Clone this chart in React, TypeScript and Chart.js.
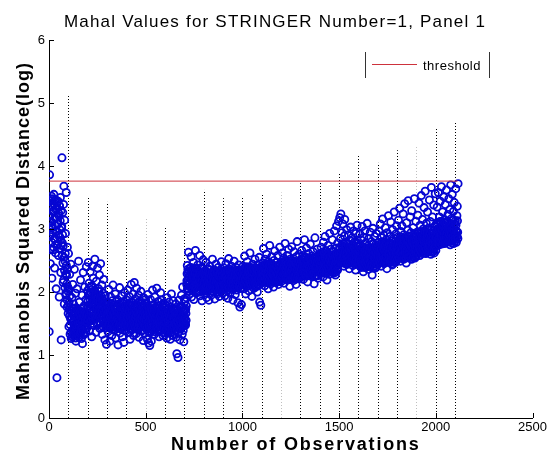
import React, { useEffect, useRef } from 'react';
import { Chart, registerables } from 'chart.js';

Chart.register(...registerables);

const titleText = 'Mahal Values for STRINGER Number=1, Panel 1';
const xAxisLabel = 'Number of Observations';
const yAxisLabel = 'Mahalanobis Squared Distance(log)';
const legendLabel = 'threshold';

const xTickValues = [0, 500, 1000, 1500, 2000, 2500];
const yTickValues = [0, 1, 2, 3, 4, 5, 6];

const thresholdValue = 3.76;
const thresholdFrom = 1;
const thresholdTo = 2112;

// dotted vertical markers (observation, top value)
const boundaryObs = [100, 200, 300, 400, 600, 700, 800, 900, 1000, 1100, 1300, 1400, 1500, 1600, 1700, 1800, 2000, 2100];
const boundaryTop = [5.13, 3.51, 3.43, 3.03, 3.02, 2.97, 3.62, 3.49, 3.51, 3.54, 3.73, 3.75, 3.89, 4.17, 4.05, 4.25, 4.6, 4.7];
const faintBoundaryObs = [500, 1200, 1900];
const faintBoundaryTop = [3.19, 3.58, 4.3];

// odd observations (1, 3, 5, ...), one block per 100 observations
const obsStep = 2;
const odd0001 = [1.37, 3.86, 3.12, 2.45, 3.38, 2.91, 3.52, 2.22, 3.05, 3.41, 2.67, 3.29, 3.55, 2.84, 2.38, 3.18, 3.47, 2.96, 2.05, 3.33, 0.64, 3.08, 2.74, 3.44, 2.58, 3.21, 1.92, 3.36, 2.87, 3.50, 2.31, 1.24, 3.02, 4.13, 2.78, 3.26, 2.15, 3.39, 3.68, 1.81, 3.14, 2.49, 2.93, 1.98, 3.58, 2.27, 1.76, 2.71, 2.08, 1.66];
const odd0101 = [2.61, 1.45, 1.72, 2.28, 1.33, 1.58, 2.44, 1.26, 1.67, 1.91, 1.39, 2.12, 1.53, 1.81, 1.30, 2.36, 1.62, 1.47, 1.98, 1.22, 1.75, 1.41, 2.05, 1.56, 1.35, 1.69, 2.49, 1.28, 1.84, 1.51, 1.64, 2.19, 1.37, 1.73, 1.44, 1.95, 1.18, 1.60, 2.31, 1.49, 1.78, 1.34, 2.08, 1.57, 1.42, 1.88, 2.40, 1.65, 1.52, 2.02];
const odd0201 = [1.85, 2.47, 1.62, 2.14, 1.38, 1.96, 2.32, 1.71, 1.55, 2.08, 1.29, 1.89, 2.41, 1.66, 2.22, 1.47, 1.78, 2.01, 2.52, 1.58, 1.93, 1.36, 2.17, 1.74, 1.63, 2.38, 1.83, 1.50, 2.05, 1.69, 2.27, 1.42, 1.91, 2.45, 1.76, 1.59, 2.11, 1.33, 1.87, 1.98, 1.52, 2.20, 1.68, 1.81, 1.24, 1.94, 1.46, 1.73, 1.17, 1.61];
const odd0301 = [1.56, 1.83, 1.37, 1.68, 2.04, 1.49, 1.75, 1.22, 1.61, 1.92, 1.44, 1.70, 1.31, 1.86, 1.58, 2.11, 1.46, 1.65, 1.39, 1.79, 1.53, 1.97, 1.27, 1.72, 1.60, 1.43, 1.88, 1.55, 1.16, 1.67, 1.81, 1.48, 2.07, 1.35, 1.63, 1.76, 1.41, 1.94, 1.57, 1.29, 1.73, 1.50, 1.85, 1.20, 1.64, 1.99, 1.45, 1.69, 1.38, 1.78];
const odd0401 = [1.62, 1.87, 1.44, 2.03, 1.55, 1.71, 1.36, 1.93, 1.58, 1.25, 1.79, 1.48, 2.12, 1.66, 1.40, 1.84, 1.53, 1.97, 1.31, 1.74, 2.15, 1.59, 1.45, 1.89, 1.68, 1.34, 2.06, 1.51, 1.77, 1.42, 1.63, 1.95, 1.28, 1.72, 1.56, 1.86, 1.47, 2.01, 1.60, 1.38, 1.82, 1.54, 1.69, 1.23, 1.91, 1.49, 1.75, 1.35, 1.65, 1.88];
const odd0501 = [1.57, 1.83, 1.41, 1.68, 1.25, 1.96, 1.52, 1.19, 1.74, 1.36, 1.15, 1.62, 1.88, 1.45, 1.22, 1.71, 1.54, 2.03, 1.39, 1.66, 1.80, 1.48, 1.33, 1.92, 1.59, 1.76, 1.43, 1.64, 2.06, 1.51, 1.69, 1.37, 1.85, 1.56, 1.29, 1.78, 1.61, 1.46, 1.99, 1.72, 1.40, 1.87, 1.53, 1.67, 1.31, 1.82, 1.58, 1.44, 1.75, 1.63];
const odd0601 = [1.54, 1.79, 1.38, 1.66, 1.27, 1.91, 1.49, 1.72, 1.35, 1.61, 1.84, 1.43, 1.57, 1.25, 1.76, 1.52, 1.97, 1.40, 1.68, 1.31, 1.59, 1.86, 1.46, 1.71, 1.34, 1.63, 1.50, 1.81, 1.28, 1.65, 1.02, 1.74, 1.45, 0.96, 1.58, 1.87, 1.37, 1.69, 1.24, 1.53, 1.78, 1.42, 1.95, 1.60, 1.33, 2.08, 1.48, 1.73, 1.21, 1.89];
const odd0701 = [1.62, 1.85, 1.47, 1.73, 1.55, 1.91, 2.18, 2.42, 2.05, 2.31, 2.63, 2.12, 1.96, 2.27, 2.38, 2.09, 2.21, 2.56, 1.92, 2.15, 2.34, 2.03, 2.24, 2.47, 1.88, 2.19, 2.29, 2.11, 2.66, 2.07, 2.36, 2.22, 1.99, 2.14, 2.43, 2.26, 2.01, 2.32, 2.17, 2.58, 1.94, 2.25, 2.10, 2.39, 2.20, 1.86, 2.30, 2.13, 2.51, 2.04];
const odd0801 = [2.16, 2.33, 1.98, 2.24, 2.08, 2.47, 2.19, 1.91, 2.28, 2.12, 2.37, 2.02, 2.21, 1.87, 2.14, 2.41, 2.06, 2.27, 2.18, 1.95, 2.31, 2.10, 2.52, 2.23, 2.00, 2.15, 2.35, 2.07, 1.89, 2.26, 2.13, 2.44, 2.04, 2.20, 2.30, 1.97, 2.17, 2.39, 2.09, 2.25, 1.93, 2.11, 2.34, 2.01, 2.22, 2.48, 2.05, 2.29, 2.16, 1.99];
const odd0901 = [2.21, 2.05, 2.38, 2.14, 1.94, 2.27, 2.09, 2.45, 2.18, 2.02, 2.32, 2.12, 1.90, 2.24, 2.53, 2.07, 2.19, 2.36, 1.98, 2.28, 2.15, 2.41, 2.04, 2.22, 2.11, 1.87, 2.33, 2.17, 2.49, 2.08, 2.26, 1.96, 2.20, 2.39, 2.13, 2.03, 2.30, 2.16, 1.83, 2.25, 2.43, 2.10, 2.23, 1.76, 2.35, 2.06, 2.19, 1.80, 2.29, 2.14];
const odd1001 = [2.24, 2.41, 2.12, 2.33, 2.05, 2.57, 2.19, 2.29, 1.97, 2.37, 2.15, 2.26, 2.48, 2.09, 2.31, 2.20, 2.02, 2.39, 2.17, 2.62, 2.27, 2.11, 2.35, 2.23, 1.93, 2.30, 2.44, 2.14, 2.21, 2.06, 2.34, 2.18, 2.52, 2.25, 2.08, 2.38, 2.16, 2.28, 2.00, 2.43, 2.22, 2.32, 2.13, 2.55, 1.84, 2.26, 2.36, 1.79, 2.19, 2.40];
const odd1101 = [2.31, 2.18, 2.46, 2.27, 2.69, 2.22, 2.38, 2.10, 2.52, 2.29, 2.35, 2.15, 2.60, 2.24, 2.42, 2.33, 2.05, 2.48, 2.21, 2.37, 2.74, 2.26, 2.40, 2.13, 2.31, 2.56, 2.19, 2.44, 2.28, 2.36, 2.08, 2.50, 2.23, 2.65, 2.34, 2.17, 2.41, 2.30, 2.47, 2.20, 2.39, 2.58, 2.25, 2.12, 2.43, 2.32, 2.71, 2.27, 2.35, 2.16];
const odd1201 = [2.33, 2.47, 2.21, 2.62, 2.38, 2.28, 2.54, 2.14, 2.42, 2.31, 2.77, 2.36, 2.24, 2.49, 2.30, 2.58, 2.19, 2.44, 2.35, 2.68, 2.27, 2.40, 2.09, 2.52, 2.34, 2.45, 2.23, 2.72, 2.37, 2.29, 2.50, 2.18, 2.41, 2.64, 2.32, 2.26, 2.46, 2.39, 2.12, 2.56, 2.35, 2.80, 2.43, 2.25, 2.48, 2.31, 2.60, 2.38, 2.22, 2.44];
const odd1301 = [2.38, 2.52, 2.29, 2.66, 2.41, 2.34, 2.58, 2.20, 2.47, 2.36, 2.83, 2.43, 2.31, 2.55, 2.27, 2.70, 2.39, 2.49, 2.16, 2.45, 2.33, 2.61, 2.40, 2.28, 2.53, 2.76, 2.37, 2.46, 2.25, 2.57, 2.42, 2.35, 2.64, 2.30, 2.50, 2.13, 2.44, 2.86, 2.39, 2.32, 2.54, 2.26, 2.48, 2.68, 2.37, 2.22, 2.51, 2.41, 2.60, 2.34];
const odd1401 = [2.43, 2.58, 2.35, 2.71, 2.47, 2.30, 2.63, 2.52, 2.24, 2.79, 2.45, 2.38, 2.56, 2.88, 2.41, 2.66, 2.33, 2.50, 2.19, 2.61, 2.46, 2.74, 2.39, 2.55, 2.28, 2.93, 2.48, 2.42, 2.68, 2.36, 2.59, 2.51, 2.83, 2.44, 2.32, 2.64, 2.40, 2.97, 2.54, 2.47, 2.27, 2.70, 2.49, 3.05, 2.57, 2.37, 2.78, 2.53, 3.12, 2.60];
const odd1501 = [2.68, 3.18, 2.52, 2.85, 3.24, 2.61, 2.47, 2.94, 2.73, 3.08, 2.56, 2.65, 2.41, 2.89, 3.15, 2.70, 2.50, 2.79, 2.58, 2.99, 2.63, 2.44, 2.76, 2.54, 2.91, 2.67, 2.37, 2.82, 2.59, 3.03, 2.71, 2.49, 2.64, 2.86, 2.55, 2.42, 2.74, 2.97, 2.60, 2.51, 2.80, 2.66, 2.35, 2.93, 2.57, 2.72, 3.06, 2.62, 2.46, 2.77];
const odd1601 = [2.58, 2.74, 2.45, 2.92, 2.63, 2.51, 2.83, 2.39, 2.68, 3.04, 2.55, 2.71, 2.32, 2.87, 2.60, 2.47, 2.97, 2.66, 2.53, 2.78, 2.43, 2.64, 3.09, 2.57, 2.73, 2.36, 2.85, 2.62, 2.49, 2.70, 2.95, 2.56, 2.41, 2.80, 2.65, 2.27, 2.76, 3.01, 2.59, 2.48, 2.69, 2.88, 2.54, 2.38, 2.75, 2.61, 2.93, 2.44, 2.67, 2.52];
const odd1701 = [2.62, 2.79, 2.48, 2.97, 2.67, 2.55, 3.08, 2.71, 2.41, 2.86, 2.59, 2.74, 3.16, 2.52, 2.68, 2.90, 2.45, 2.77, 2.63, 3.02, 2.56, 2.83, 2.70, 2.37, 2.94, 2.65, 2.51, 3.21, 2.75, 2.60, 2.88, 2.47, 2.72, 3.11, 2.58, 2.81, 2.66, 2.43, 2.99, 2.69, 2.54, 2.85, 3.27, 2.64, 2.76, 2.50, 2.92, 2.61, 3.05, 2.73];
const odd1801 = [2.68, 2.87, 2.55, 3.14, 2.74, 2.62, 3.33, 2.80, 2.49, 2.96, 2.66, 2.83, 3.05, 2.58, 2.77, 3.24, 2.52, 2.91, 2.70, 3.40, 2.61, 2.85, 2.73, 2.46, 3.10, 2.79, 2.64, 2.98, 3.45, 2.69, 2.89, 2.57, 2.76, 3.19, 2.67, 2.94, 2.53, 3.29, 2.82, 2.71, 2.60, 3.02, 2.88, 2.75, 3.48, 2.65, 2.93, 2.56, 3.12, 2.78];
const odd1901 = [2.76, 2.95, 2.63, 3.22, 2.84, 2.71, 3.41, 2.89, 2.58, 3.06, 2.74, 2.92, 3.53, 2.69, 2.87, 3.15, 2.66, 3.00, 2.81, 3.34, 2.72, 2.97, 3.60, 2.78, 2.61, 3.09, 2.86, 2.94, 3.27, 2.75, 3.01, 2.68, 2.90, 3.46, 2.80, 3.12, 2.64, 2.98, 3.66, 2.83, 2.73, 3.19, 2.93, 2.79, 3.38, 2.70, 3.04, 2.88, 3.56, 2.85];
const odd2001 = [2.86, 3.08, 2.78, 3.35, 2.95, 2.82, 3.58, 3.01, 2.75, 3.19, 2.90, 3.44, 2.84, 3.12, 3.67, 2.98, 2.80, 3.27, 3.05, 2.88, 3.51, 2.93, 3.15, 2.79, 3.39, 3.00, 2.87, 3.62, 3.10, 2.94, 2.83, 3.23, 3.04, 3.48, 2.91, 2.85, 3.31, 3.07, 3.70, 2.96, 2.81, 3.17, 3.55, 2.99, 2.89, 3.28, 3.02, 3.42, 2.92, 2.86, 3.13, 3.64, 2.97, 2.88, 3.21, 3.36, 2.95, 3.72];

// even observations (2, 4, 6, ...), one block per 100 observations
const even0002 = [3.21, 2.88, 3.44, 2.67, 3.10, 3.35, 2.79, 3.02, 3.48, 2.94, 3.27, 2.71, 3.15, 3.40, 2.85, 3.06, 2.62, 3.31, 2.97, 3.19, 2.76, 3.43, 3.08, 2.90, 3.25, 2.69, 3.37, 2.99, 3.13, 2.82, 3.29, 2.74, 3.04, 2.58, 2.91, 2.46, 2.73, 2.19, 2.55, 2.34, 2.07, 2.61, 2.28, 1.95, 2.42, 2.13, 1.87, 2.36, 2.01, 1.79];
const even0102 = [2.05, 1.83, 1.62, 1.94, 1.48, 1.71, 1.36, 1.57, 1.66, 1.29, 1.52, 1.74, 1.41, 1.63, 1.33, 1.55, 1.47, 1.69, 1.27, 1.58, 1.44, 1.72, 1.38, 1.61, 1.50, 1.31, 1.65, 1.46, 1.56, 1.35, 1.70, 1.42, 1.59, 1.26, 1.53, 1.67, 1.39, 1.49, 1.75, 1.32, 1.60, 1.45, 1.54, 1.68, 1.37, 1.62, 1.51, 1.43, 1.73, 1.57];
const even0202 = [1.78, 1.95, 1.62, 2.06, 1.71, 1.88, 1.54, 1.99, 1.67, 1.83, 2.10, 1.59, 1.76, 1.92, 1.50, 1.85, 1.69, 2.03, 1.64, 1.80, 1.57, 1.97, 1.73, 1.87, 1.48, 1.91, 1.66, 1.79, 2.01, 1.61, 1.84, 1.52, 1.74, 1.94, 1.58, 1.70, 1.89, 1.46, 1.77, 1.63, 1.82, 1.55, 1.68, 1.49, 1.75, 1.60, 1.43, 1.72, 1.53, 1.65];
const even0302 = [1.62, 1.48, 1.75, 1.55, 1.83, 1.43, 1.68, 1.59, 1.77, 1.46, 1.64, 1.81, 1.51, 1.70, 1.41, 1.66, 1.57, 1.79, 1.45, 1.61, 1.73, 1.53, 1.85, 1.49, 1.67, 1.58, 1.42, 1.76, 1.54, 1.69, 1.47, 1.63, 1.80, 1.52, 1.71, 1.44, 1.60, 1.74, 1.50, 1.65, 1.56, 1.82, 1.46, 1.72, 1.59, 1.40, 1.67, 1.53, 1.78, 1.61];
const even0402 = [1.58, 1.73, 1.46, 1.65, 1.81, 1.52, 1.69, 1.43, 1.77, 1.60, 1.49, 1.84, 1.56, 1.71, 1.41, 1.63, 1.79, 1.54, 1.67, 1.47, 1.75, 1.59, 1.44, 1.70, 1.62, 1.80, 1.50, 1.66, 1.42, 1.74, 1.57, 1.83, 1.48, 1.64, 1.72, 1.53, 1.45, 1.68, 1.78, 1.55, 1.61, 1.40, 1.76, 1.51, 1.69, 1.58, 1.82, 1.47, 1.63, 1.71];
const even0502 = [1.55, 1.68, 1.42, 1.61, 1.77, 1.38, 1.52, 1.70, 1.46, 1.64, 1.36, 1.58, 1.74, 1.49, 1.66, 1.41, 1.59, 1.79, 1.53, 1.45, 1.71, 1.62, 1.37, 1.56, 1.75, 1.48, 1.65, 1.43, 1.69, 1.54, 1.78, 1.40, 1.60, 1.51, 1.73, 1.47, 1.63, 1.39, 1.67, 1.57, 1.44, 1.72, 1.50, 1.80, 1.58, 1.35, 1.66, 1.52, 1.76, 1.60];
const even0602 = [1.52, 1.66, 1.41, 1.59, 1.73, 1.37, 1.55, 1.68, 1.45, 1.62, 1.39, 1.57, 1.71, 1.48, 1.64, 1.36, 1.53, 1.69, 1.44, 1.60, 1.74, 1.42, 1.58, 1.50, 1.67, 1.38, 1.61, 1.47, 1.72, 1.54, 1.40, 1.65, 1.51, 1.35, 1.63, 1.46, 1.70, 1.56, 1.43, 1.66, 1.49, 1.59, 1.75, 1.45, 1.62, 1.53, 1.39, 1.68, 1.57, 1.48];
const even0702 = [1.58, 1.71, 1.49, 1.66, 1.78, 2.12, 2.29, 2.05, 2.36, 2.18, 2.24, 2.01, 2.33, 2.15, 2.27, 2.08, 2.39, 2.20, 2.11, 2.31, 2.03, 2.25, 2.16, 2.35, 2.09, 2.22, 2.30, 2.06, 2.19, 2.38, 2.13, 2.26, 2.02, 2.34, 2.17, 2.23, 2.10, 2.28, 2.00, 2.32, 2.14, 2.21, 2.37, 2.07, 2.25, 2.18, 2.04, 2.30, 2.12, 2.27];
const even0802 = [2.14, 2.27, 2.05, 2.20, 2.33, 2.09, 2.24, 2.01, 2.17, 2.30, 2.11, 2.22, 2.04, 2.28, 2.15, 2.35, 2.08, 2.19, 2.26, 2.02, 2.13, 2.31, 2.10, 2.23, 2.06, 2.18, 2.29, 2.12, 2.34, 2.03, 2.21, 2.16, 2.25, 2.07, 2.32, 2.14, 2.00, 2.27, 2.19, 2.10, 2.24, 2.05, 2.30, 2.17, 2.12, 2.22, 2.08, 2.28, 2.15, 2.20];
const even0902 = [2.19, 2.30, 2.10, 2.24, 2.07, 2.33, 2.15, 2.27, 2.12, 2.21, 2.35, 2.09, 2.18, 2.29, 2.06, 2.25, 2.14, 2.31, 2.11, 2.22, 2.17, 2.34, 2.08, 2.26, 2.13, 2.20, 2.32, 2.05, 2.23, 2.16, 2.28, 2.10, 2.19, 2.35, 2.12, 2.24, 2.07, 2.30, 2.15, 2.21, 2.09, 2.27, 2.18, 2.13, 2.33, 2.06, 2.22, 2.16, 2.29, 2.11];
const even1002 = [2.22, 2.35, 2.14, 2.28, 2.11, 2.38, 2.19, 2.31, 2.16, 2.25, 2.40, 2.13, 2.23, 2.33, 2.10, 2.29, 2.18, 2.36, 2.15, 2.26, 2.21, 2.39, 2.12, 2.30, 2.17, 2.24, 2.37, 2.11, 2.27, 2.20, 2.34, 2.14, 2.23, 2.32, 2.16, 2.28, 2.10, 2.35, 2.19, 2.25, 2.13, 2.31, 2.22, 2.17, 2.38, 2.12, 2.27, 2.20, 2.33, 2.15];
const even1102 = [2.27, 2.40, 2.19, 2.33, 2.16, 2.43, 2.24, 2.36, 2.21, 2.30, 2.45, 2.18, 2.28, 2.38, 2.15, 2.34, 2.23, 2.41, 2.20, 2.31, 2.26, 2.44, 2.17, 2.35, 2.22, 2.29, 2.42, 2.16, 2.32, 2.25, 2.39, 2.19, 2.28, 2.37, 2.21, 2.33, 2.15, 2.40, 2.24, 2.30, 2.18, 2.36, 2.27, 2.22, 2.43, 2.17, 2.32, 2.25, 2.38, 2.20];
const even1202 = [2.31, 2.44, 2.23, 2.38, 2.21, 2.47, 2.28, 2.41, 2.26, 2.35, 2.50, 2.22, 2.33, 2.43, 2.20, 2.39, 2.27, 2.46, 2.24, 2.36, 2.30, 2.49, 2.21, 2.40, 2.25, 2.34, 2.45, 2.23, 2.37, 2.29, 2.42, 2.24, 2.32, 2.48, 2.26, 2.38, 2.20, 2.44, 2.28, 2.35, 2.22, 2.41, 2.31, 2.27, 2.46, 2.21, 2.36, 2.30, 2.43, 2.25];
const even1302 = [2.36, 2.49, 2.28, 2.42, 2.26, 2.52, 2.33, 2.46, 2.30, 2.40, 2.55, 2.27, 2.38, 2.48, 2.25, 2.44, 2.32, 2.51, 2.29, 2.41, 2.35, 2.54, 2.26, 2.45, 2.31, 2.39, 2.50, 2.28, 2.42, 2.34, 2.47, 2.29, 2.37, 2.53, 2.31, 2.43, 2.25, 2.49, 2.33, 2.40, 2.27, 2.46, 2.36, 2.32, 2.51, 2.26, 2.41, 2.35, 2.48, 2.30];
const even1402 = [2.41, 2.55, 2.33, 2.48, 2.31, 2.59, 2.38, 2.52, 2.35, 2.45, 2.61, 2.32, 2.43, 2.54, 2.30, 2.50, 2.37, 2.57, 2.34, 2.46, 2.40, 2.60, 2.31, 2.51, 2.36, 2.44, 2.56, 2.33, 2.47, 2.39, 2.53, 2.34, 2.42, 2.58, 2.36, 2.49, 2.30, 2.55, 2.38, 2.45, 2.32, 2.52, 2.41, 2.37, 2.62, 2.35, 2.50, 2.44, 2.59, 2.47];
const even1502 = [2.56, 2.70, 2.48, 2.63, 2.46, 2.74, 2.53, 2.67, 2.50, 2.60, 2.77, 2.47, 2.58, 2.69, 2.45, 2.65, 2.52, 2.72, 2.49, 2.61, 2.55, 2.76, 2.46, 2.66, 2.51, 2.59, 2.71, 2.48, 2.62, 2.54, 2.68, 2.49, 2.57, 2.75, 2.51, 2.64, 2.45, 2.70, 2.53, 2.60, 2.47, 2.67, 2.56, 2.52, 2.78, 2.46, 2.63, 2.55, 2.73, 2.50];
const even1602 = [2.50, 2.64, 2.42, 2.57, 2.40, 2.68, 2.47, 2.61, 2.44, 2.54, 2.71, 2.41, 2.52, 2.63, 2.39, 2.59, 2.46, 2.66, 2.43, 2.55, 2.49, 2.70, 2.40, 2.60, 2.45, 2.53, 2.65, 2.42, 2.56, 2.48, 2.62, 2.43, 2.51, 2.69, 2.45, 2.58, 2.38, 2.64, 2.47, 2.54, 2.41, 2.61, 2.50, 2.46, 2.72, 2.40, 2.57, 2.49, 2.67, 2.44];
const even1702 = [2.57, 2.71, 2.49, 2.64, 2.47, 2.76, 2.54, 2.68, 2.51, 2.61, 2.79, 2.48, 2.59, 2.70, 2.46, 2.66, 2.53, 2.74, 2.50, 2.62, 2.56, 2.78, 2.47, 2.67, 2.52, 2.60, 2.72, 2.49, 2.63, 2.55, 2.69, 2.50, 2.58, 2.77, 2.52, 2.65, 2.45, 2.71, 2.54, 2.61, 2.48, 2.68, 2.57, 2.53, 2.80, 2.47, 2.64, 2.56, 2.75, 2.51];
const even1802 = [2.64, 2.79, 2.56, 2.72, 2.54, 2.84, 2.61, 2.76, 2.58, 2.69, 2.87, 2.55, 2.67, 2.78, 2.53, 2.74, 2.60, 2.82, 2.57, 2.70, 2.63, 2.86, 2.54, 2.75, 2.59, 2.68, 2.80, 2.56, 2.71, 2.62, 2.77, 2.57, 2.66, 2.85, 2.59, 2.73, 2.52, 2.79, 2.61, 2.69, 2.55, 2.76, 2.64, 2.60, 2.88, 2.54, 2.72, 2.63, 2.83, 2.58];
const even1902 = [2.72, 2.88, 2.64, 2.81, 2.62, 2.93, 2.69, 2.85, 2.66, 2.78, 2.96, 2.63, 2.75, 2.87, 2.61, 2.83, 2.68, 2.91, 2.65, 2.79, 2.71, 2.95, 2.62, 2.84, 2.67, 2.77, 2.89, 2.64, 2.80, 2.70, 2.86, 2.65, 2.74, 2.94, 2.67, 2.82, 2.60, 2.88, 2.69, 2.78, 2.63, 2.85, 2.72, 2.68, 2.98, 2.62, 2.81, 2.71, 2.92, 2.66];
const even2002 = [2.87, 3.04, 2.79, 2.96, 2.77, 3.09, 2.84, 3.00, 2.81, 2.93, 3.12, 2.78, 2.90, 3.02, 2.76, 2.98, 2.83, 3.07, 2.80, 2.94, 2.86, 3.11, 2.77, 2.99, 2.82, 2.92, 3.05, 2.79, 2.95, 2.85, 3.01, 2.80, 2.89, 3.10, 2.82, 2.97, 2.75, 3.03, 2.84, 2.93, 2.78, 3.00, 2.87, 2.83, 3.14, 2.77, 2.96, 2.86, 3.08, 2.81, 2.91, 3.06, 2.79, 2.95, 2.88, 3.13, 2.85];

const oddBlocks = [odd0001, odd0101, odd0201, odd0301, odd0401, odd0501, odd0601, odd0701, odd0801, odd0901, odd1001, odd1101, odd1201, odd1301, odd1401, odd1501, odd1601, odd1701, odd1801, odd1901, odd2001];
const evenBlocks = [even0002, even0102, even0202, even0302, even0402, even0502, even0602, even0702, even0802, even0902, even1002, even1102, even1202, even1302, even1402, even1502, even1602, even1702, even1802, even1902, even2002];

const FONT = "'Liberation Sans', Arial, Helvetica, sans-serif";

const stemPlugin = {
  id: 'stems',
  beforeDatasetsDraw(chart: any) {
    const ctx = chart.ctx as CanvasRenderingContext2D;
    const xs = chart.scales.x;
    const ys = chart.scales.y;
    ctx.save();
    ctx.lineWidth = 1;
    ctx.setLineDash([1, 2]);
    const draw = (obs: number[], tops: number[], color: string) => {
      ctx.strokeStyle = color;
      ctx.beginPath();
      obs.forEach((o, i) => {
        const px = Math.round(xs.getPixelForValue(o)) + 0.5;
        ctx.moveTo(px, ys.getPixelForValue(0));
        ctx.lineTo(px, ys.getPixelForValue(tops[i]));
      });
      ctx.stroke();
    };
    draw(boundaryObs, boundaryTop, '#000');
    draw(faintBoundaryObs, faintBoundaryTop, 'rgba(0,0,0,0.25)');
    ctx.restore();
  },
};

const overlay = {
  id: 'matlabOverlay',
  afterDraw(chart: any) {
    const ctx = chart.ctx as CanvasRenderingContext2D;
    const area = chart.chartArea;
    const xs = chart.scales.x;
    const ys = chart.scales.y;
    ctx.save();
    ctx.strokeStyle = '#000';
    ctx.lineWidth = 1;
    ctx.setLineDash([]);
    ctx.beginPath();
    xTickValues.forEach((v) => {
      const px = Math.round(xs.getPixelForValue(v)) + 0.5;
      ctx.moveTo(px, area.bottom);
      ctx.lineTo(px, area.bottom - 5);
    });
    yTickValues.forEach((v) => {
      const py = Math.round(ys.getPixelForValue(v)) + 0.5;
      ctx.moveTo(area.left, py);
      ctx.lineTo(area.left + 5, py);
    });
    ctx.stroke();

    ctx.fillStyle = '#000';
    ctx.textBaseline = 'alphabetic';
    ctx.textAlign = 'center';
    (ctx as any).letterSpacing = '1.2px';
    ctx.font = `17px ${FONT}`;
    ctx.fillText(titleText, 275, 27);

    (ctx as any).letterSpacing = '1.8px';
    ctx.font = `bold 18px ${FONT}`;
    ctx.fillText(xAxisLabel, (area.left + area.right) / 2 + 5, 450);

    (ctx as any).letterSpacing = '1px';
    ctx.save();
    ctx.translate(29, 231);
    ctx.rotate(-Math.PI / 2);
    ctx.font = `bold 18px ${FONT}`;
    ctx.fillText(yAxisLabel, 0, 0);
    ctx.restore();

    (ctx as any).letterSpacing = '0.5px';
    const lx0 = 365.5, lx1 = 489.5, ly0 = 52, ly1 = 78;
    ctx.strokeStyle = '#333';
    ctx.beginPath();
    ctx.moveTo(lx0, ly0);
    ctx.lineTo(lx0, ly1);
    ctx.moveTo(lx1, ly0);
    ctx.lineTo(lx1, ly1);
    ctx.stroke();
    ctx.strokeStyle = 'rgb(205,50,60)';
    ctx.beginPath();
    ctx.moveTo(372, 64.5);
    ctx.lineTo(417, 64.5);
    ctx.stroke();
    ctx.fillStyle = '#000';
    ctx.textAlign = 'left';
    ctx.textBaseline = 'middle';
    ctx.font = `13px ${FONT}`;
    ctx.fillText(legendLabel, 423, 66);
    (ctx as any).letterSpacing = '0px';
    ctx.restore();
  },
};

export default function App() {
  const ref = useRef<HTMLCanvasElement | null>(null);
  useEffect(() => {
    if (!ref.current) return;
    const points: { x: number; y: number }[] = [];
    let k = 0;
    oddBlocks.forEach((block) => {
      block.forEach((v) => {
        points.push({ x: 1 + k * obsStep, y: v });
        k++;
      });
    });
    k = 0;
    evenBlocks.forEach((block) => {
      block.forEach((v) => {
        points.push({ x: 2 + k * obsStep, y: v });
        k++;
      });
    });
    points.sort((a, b) => a.x - b.x);
    const chart = new Chart(ref.current, {
      type: 'scatter',
      data: {
        datasets: [
          {
            label: 'mahal',
            data: points,
            pointStyle: 'circle',
            pointRadius: 3.6,
            pointBorderWidth: 1.8,
            pointBorderColor: 'rgb(6,6,210)',
            pointBackgroundColor: 'rgba(0,0,0,0)',
            order: 2,
          } as any,
          {
            type: 'line',
            label: legendLabel,
            data: [
              { x: thresholdFrom, y: thresholdValue },
              { x: thresholdTo, y: thresholdValue },
            ],
            borderColor: 'rgb(205,50,60)',
            borderWidth: 1,
            pointRadius: 0,
            fill: false,
            order: 1,
          } as any,
        ],
      },
      options: {
        animation: false,
        responsive: false,
        devicePixelRatio: 1,
        layout: { padding: { left: 0, top: 40, right: 16, bottom: 0 } },
        plugins: {
          legend: { display: false },
          tooltip: { enabled: false },
          title: { display: false },
        },
        scales: {
          x: {
            type: 'linear',
            min: 0,
            max: 2500,
            afterFit: (s: any) => {
              s.height = 46;
            },
            afterBuildTicks: (s: any) => {
              s.ticks = xTickValues.map((v) => ({ value: v }));
            },
            grid: { display: false, drawTicks: false },
            border: { display: true, color: '#000', width: 1 },
            ticks: {
              padding: 2,
              color: '#000',
              maxRotation: 0,
              autoSkip: false,
              font: { family: FONT, size: 13 },
              callback: (v: any) => String(v),
            },
          },
          y: {
            type: 'linear',
            min: 0,
            max: 6,
            afterFit: (s: any) => {
              s.width = 49;
            },
            afterBuildTicks: (s: any) => {
              s.ticks = yTickValues.map((v) => ({ value: v }));
            },
            grid: { display: false, drawTicks: false },
            border: { display: true, color: '#000', width: 1 },
            ticks: {
              padding: 4,
              color: '#000',
              font: { family: FONT, size: 13 },
              callback: (v: any) => String(v),
            },
          },
        },
      },
      plugins: [stemPlugin, overlay],
    });
    return () => chart.destroy();
  }, []);
  return (
    <div style={{ position: 'fixed', left: 0, top: 0, width: 549, height: 464, background: '#fff' }}>
      <canvas ref={ref} width={549} height={464} style={{ width: 549, height: 464, display: 'block' }} />
    </div>
  );
}
